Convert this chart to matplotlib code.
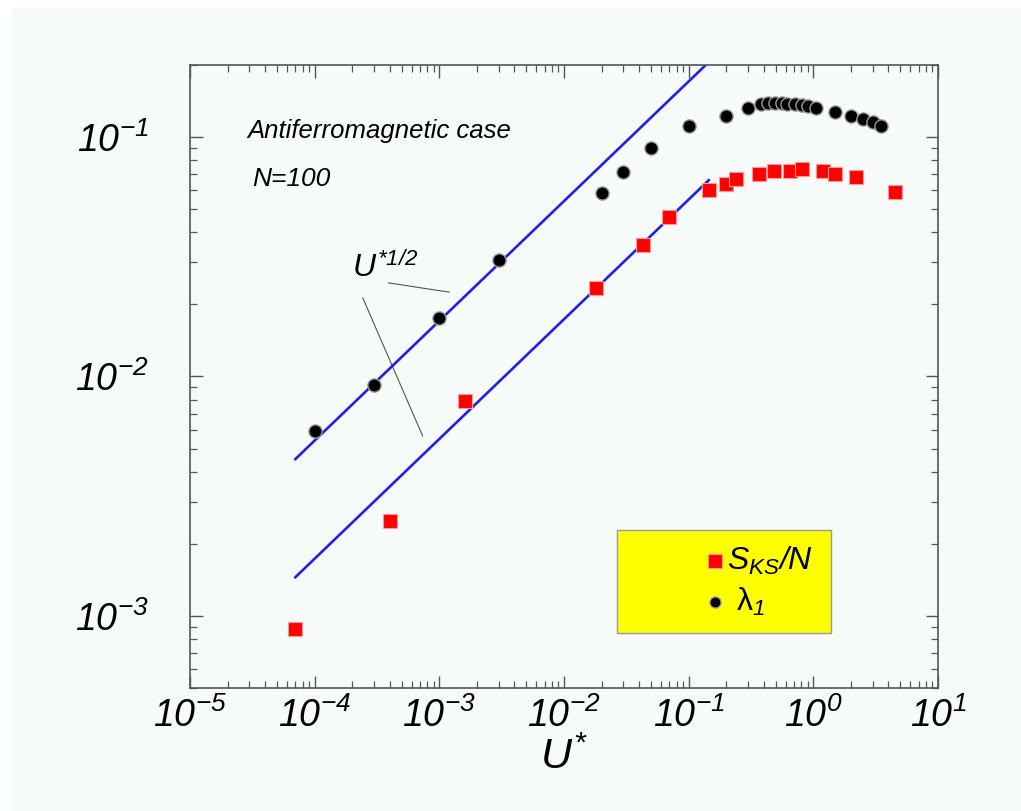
import matplotlib
matplotlib.use("Agg")
import matplotlib.pyplot as plt
from matplotlib.patches import Rectangle
from matplotlib.ticker import LogLocator, NullFormatter, LogFormatterMathtext
import numpy as np

plt.rcParams['font.family'] = ['Liberation Sans', 'DejaVu Sans']
plt.rcParams['font.style'] = 'italic'
plt.rcParams['mathtext.fontset'] = 'custom'
plt.rcParams['mathtext.rm'] = 'Liberation Sans:italic'
plt.rcParams['mathtext.it'] = 'Liberation Sans:italic'
plt.rcParams['mathtext.sf'] = 'Liberation Sans:italic'

# S_KS / N  (red squares)
u_ks = [7e-5, 4e-4, 1.6e-3, 0.018, 0.043, 0.07, 0.145, 0.2, 0.24,
        0.37, 0.48, 0.65, 0.81, 1.2, 1.5, 2.2, 4.5]
s_ks = [8.8e-4, 2.5e-3, 7.9e-3, 0.0234, 0.0355, 0.0463, 0.060, 0.0635, 0.0667,
        0.070, 0.0722, 0.0722, 0.0733, 0.0724, 0.070, 0.0684, 0.0592]

# lambda_1  (black circles)
u_lam = [1e-4, 3e-4, 1e-3, 3e-3, 0.02, 0.03, 0.05, 0.1, 0.2, 0.3,
         0.38, 0.43, 0.49, 0.56, 0.62, 0.71, 0.81, 0.9, 1.06, 1.5, 2.0, 2.5, 3.0, 3.5]
lam = [5.9e-3, 9.2e-3, 0.0175, 0.0307, 0.0586, 0.0717, 0.0897, 0.111, 0.122, 0.1325,
       0.138, 0.139, 0.139, 0.139, 0.138, 0.137, 0.136, 0.135, 0.1316, 0.127, 0.1227,
       0.1189, 0.1158, 0.1115]

# U*^(1/2) guide lines
fit_u = np.array([7e-5, 0.145])
amp_lam = 0.54
amp_ks = 0.1734

bg = '#f6faf8'
fig = plt.figure(figsize=(10.21, 8.11), dpi=100, facecolor='white')
fig.patches.append(Rectangle((11/1021, 0), 1, 1 - 8/811, transform=fig.transFigure,
                             facecolor=bg, edgecolor='none', zorder=-10))
ax = fig.add_axes([0.1861, 0.1517, 0.7326, 0.7682])
ax.set_facecolor(bg)

ax.plot(fit_u, amp_lam*np.sqrt(fit_u), c='#1f1fee', lw=1.9, zorder=2)
ax.plot(fit_u, amp_ks*np.sqrt(fit_u), c='#1f1fee', lw=1.9, zorder=2)

ax.plot(u_ks, s_ks, ls='none', marker='s', ms=10, mfc='#ff0000', mec='#ff9a9a',
        mew=0.8, zorder=3)
ax.plot(u_lam, lam, ls='none', marker='o', ms=9.5, mfc='black', mec='#9a9a9a',
        mew=1.0, zorder=3)

ax.set_xscale('log')
ax.set_yscale('log')
ax.set_xlim(1e-5, 1e1)
ax.set_ylim(5e-4, 0.2)

for axis in (ax.xaxis, ax.yaxis):
    axis.set_major_locator(LogLocator(base=10, numticks=20))
    axis.set_minor_locator(LogLocator(base=10, subs=np.arange(2, 10), numticks=100))
    axis.set_minor_formatter(NullFormatter())
    axis.set_major_formatter(LogFormatterMathtext())

ax.tick_params(which='both', direction='in', top=True, right=True, color='#555555')
ax.tick_params(which='major', length=9, width=1.0, labelsize=27)
ax.tick_params(which='minor', length=5, width=0.9)
ax.tick_params(axis='x', pad=7)
ax.tick_params(axis='y', pad=30)
for s in ax.spines.values():
    s.set_color('#555555')
    s.set_linewidth(1.2)

ax.set_xlabel(r'$U^{*}$', fontsize=31, labelpad=2)

# annotations
ax.text(0.076, 0.883, 'Antiferromagnetic case', transform=ax.transAxes, fontsize=18.5)
ax.text(0.083, 0.805, 'N=100', transform=ax.transAxes, fontsize=19)
ax.text(0.217, 0.660, r'$U^{*1/2}$', transform=ax.transAxes, fontsize=23)
ax.plot([3.9e-4, 1.2e-3], [0.0246, 0.0225], c='#555555', lw=0.8, zorder=1)
ax.plot([2.43e-4, 7.35e-4], [0.0213, 5.64e-3], c='#555555', lw=0.8, zorder=1)

# legend box
ax.add_patch(Rectangle((0.571, 0.0883), 0.286, 0.1653, transform=ax.transAxes,
                       facecolor='#ffff00', edgecolor='#999999', lw=1.0, zorder=4))
ax.plot([0.702], [0.2039], transform=ax.transAxes, marker='s', ms=10, mfc='#ff0000',
        mec='#ff9a9a', mew=0.8, zorder=5, clip_on=False)
ax.plot([0.702], [0.1385], transform=ax.transAxes, marker='o', ms=8, mfc='black',
        mec='#9a9a9a', mew=1.0, zorder=5, clip_on=False)
ax.text(0.718, 0.2039, r'$S_{KS}/N$', transform=ax.transAxes, fontsize=23,
        va='center', zorder=6)
ax.text(0.730, 0.1385, 'λ$_1$', transform=ax.transAxes, fontsize=23,
        va='center', zorder=6, style='normal')

fig.savefig('out.png', dpi=100, facecolor=fig.get_facecolor())
